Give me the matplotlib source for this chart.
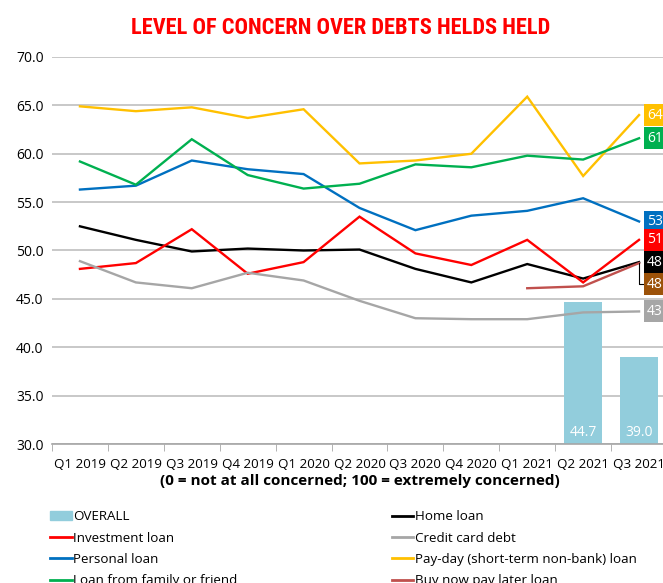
import matplotlib
matplotlib.use("Agg")
import matplotlib.pyplot as plt
from matplotlib.patches import Patch
from matplotlib.lines import Line2D
import numpy as np

nan = np.nan
quarters = ["Q1 2019", "Q2 2019", "Q3 2019", "Q4 2019", "Q1 2020", "Q2 2020",
            "Q3 2020", "Q4 2020", "Q1 2021", "Q2 2021", "Q3 2021"]
overall = [nan, nan, nan, nan, nan, nan, nan, nan, nan, 44.7, 39.0]
home_loan = [52.5, 51.1, 49.9, 50.2, 50.0, 50.1, 48.1, 46.7, 48.6, 47.1, 48.8]
investment_loan = [48.1, 48.7, 52.2, 47.6, 48.8, 53.5, 49.7, 48.5, 51.1, 46.7, 51.1]
credit_card = [48.9, 46.7, 46.1, 47.7, 46.9, 44.8, 43.0, 42.9, 42.9, 43.6, 43.7]
personal_loan = [56.3, 56.7, 59.3, 58.4, 57.9, 54.4, 52.1, 53.6, 54.1, 55.4, 53.0]
payday_loan = [64.9, 64.4, 64.8, 63.7, 64.6, 59.0, 59.3, 60.0, 65.9, 57.7, 64.0]
family_loan = [59.2, 56.8, 61.5, 57.8, 56.4, 56.9, 58.9, 58.6, 59.8, 59.4, 61.6]
bnpl_loan = [nan, nan, nan, nan, nan, nan, nan, nan, 46.1, 46.3, 48.7]

C_BAR = "#92CDDC"
C_HOME = "#000000"
C_INV = "#FF0000"
C_CC = "#A6A6A6"
C_PERS = "#0070C0"
C_PAY = "#FFC000"
C_FAM = "#00B050"
C_BNPL = "#C0504D"
C_BNPL_LBL = "#9C5209"

FONT = ["Open Sans", "DejaVu Sans"]
plt.rcParams["font.family"] = FONT
FS = 9.6

fig = plt.figure(figsize=(6.63, 5.83), dpi=100)
ax = fig.add_axes([52 / 663, 139 / 583, 615 / 663, 387 / 583])

x = np.arange(len(quarters))
ax.bar(x, overall, width=0.67, color=C_BAR, zorder=2)
for xi, v in zip(x, overall):
    if not np.isnan(v):
        ax.text(xi, 30.4, f"{v:.1f}", ha="center", va="bottom", color="white",
                fontsize=10, zorder=3)

series = [
    (home_loan, C_HOME, "Home loan"),
    (investment_loan, C_INV, "Investment loan"),
    (credit_card, C_CC, "Credit card debt"),
    (personal_loan, C_PERS, "Personal loan"),
    (payday_loan, C_PAY, "Pay-day (short-term non-bank) loan"),
    (family_loan, C_FAM, "Loan from family or friend"),
    (bnpl_loan, C_BNPL, "Buy now pay later loan"),
]
for vals, col, lab in series:
    ax.plot(x, vals, color=col, lw=1.7, zorder=4, solid_joinstyle="miter")

# end labels
ends = [
    (payday_loan, C_PAY, 0),
    (family_loan, C_FAM, 0),
    (personal_loan, C_PERS, 0),
    (investment_loan, C_INV, 0),
    (home_loan, C_HOME, 0),
    (credit_card, C_CC, 0),
]
for vals, col, dy in ends:
    v = vals[-1]
    ax.annotate(f"{int(v)}", xy=(x[-1], v), xytext=(8, dy), textcoords="offset pixels",
                ha="left", va="center", color="white", fontsize=10,
                bbox=dict(boxstyle="square,pad=0.25", fc=col, ec="none"),
                annotation_clip=False, zorder=6)
v = bnpl_loan[-1]
ax.annotate(f"{int(v)}", xy=(x[-1], v), xytext=(8, -21), textcoords="offset pixels",
            ha="left", va="center", color="white", fontsize=10,
            bbox=dict(boxstyle="square,pad=0.25", fc=C_BNPL_LBL, ec="none"),
            arrowprops=dict(arrowstyle="-", color="black", lw=0.8, shrinkA=0, shrinkB=0,
                            connectionstyle="angle,angleA=0,angleB=90,rad=0"),
            annotation_clip=False, zorder=6)

ax.set_xlim(-0.5, 10.5)
ax.set_ylim(30, 70)
yt = np.arange(30, 70.1, 5)
ax.set_yticks(yt)
ax.set_yticklabels([f"{t:.1f}" for t in yt], fontsize=10)
ax.set_xticks(x)
ax.set_xticklabels(quarters, fontsize=FS)
ax.set_xticks(np.arange(-0.5, 10.6, 1), minor=True)
ax.tick_params(axis="x", which="major", length=0, pad=10)
ax.tick_params(axis="x", which="minor", length=5, color="#A6A6A6", direction="out")
ax.tick_params(axis="y", length=0, pad=6)
ax.grid(axis="y", color="#BFBFBF", lw=1.2, zorder=0)
ax.set_axisbelow(True)
for s in ["left", "right", "top"]:
    ax.spines[s].set_visible(False)
ax.spines["bottom"].set_color("#A6A6A6")
ax.spines["bottom"].set_linewidth(1.2)

ax.set_xlabel("(0 = not at all concerned; 100 = extremely concerned)", fontsize=11,
              fontweight="bold", labelpad=2)

title = fig.text(341 / 663, 1 - 28 / 583, "LEVEL OF CONCERN OVER DEBTS HELDS HELD",
                 ha="center", va="center", color="#FF0000", fontsize=22, fontweight="bold",
                 fontstretch="condensed",
                 family=["Roboto Condensed", "Liberation Sans Narrow", "Open Sans Condensed",
                         "Roboto"])
fig.canvas.draw()
w = title.get_window_extent().width
title.set_fontsize(22 * 420 / w)

handles = [
    Patch(color=C_BAR, label="OVERALL"),
    Line2D([], [], color=C_INV, lw=2, label="Investment loan"),
    Line2D([], [], color=C_PERS, lw=2, label="Personal loan"),
    Line2D([], [], color=C_FAM, lw=2, label="Loan from family or friend"),
    Line2D([], [], color=C_HOME, lw=2, label="Home loan"),
    Line2D([], [], color=C_CC, lw=2, label="Credit card debt"),
    Line2D([], [], color=C_PAY, lw=2, label="Pay-day (short-term non-bank) loan"),
    Line2D([], [], color=C_BNPL, lw=2, label="Buy now pay later loan"),
]
fig.legend(handles=handles, ncol=2, loc="upper left", bbox_to_anchor=(45 / 663, 1 - 505 / 583),
           frameon=False, fontsize=FS, handlelength=1.6, handleheight=0.6,
           handletextpad=0.1, columnspacing=11.6, labelspacing=0.62, borderaxespad=0)

fig.savefig("out.png", dpi=100)
